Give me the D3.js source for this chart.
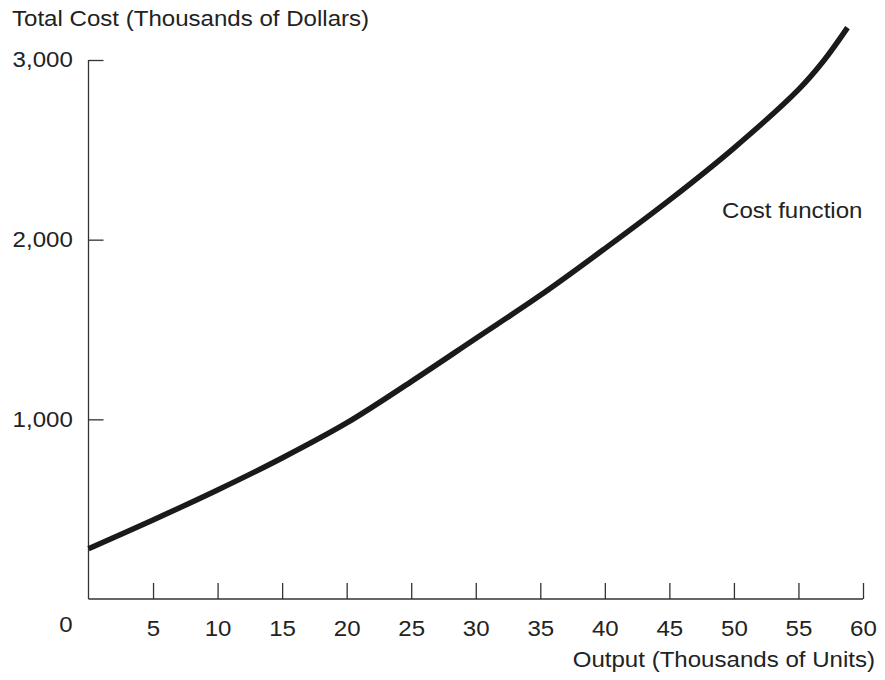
<!DOCTYPE html>
<html>
<head>
<meta charset="utf-8">
<script src="https://cdn.jsdelivr.net/npm/d3@7"></script>
<style>
  body { margin: 0; background: #fff; }
  svg text { font-family: "Liberation Sans", Arial, sans-serif; fill: #222; }
</style>
</head>
<body>
<svg width="885" height="680"></svg>
<script>
// output in thousands of units, total cost in thousands of dollars
const output = [0, 5, 10, 15, 20, 25, 30, 35, 40, 45, 50, 55, 57, 58.8]
const totalCost = [280, 440, 607, 785, 980, 1210, 1450, 1690, 1950, 2220, 2510, 2835, 3000, 3180]
const xTicks = [5, 10, 15, 20, 25, 30, 35, 40, 45, 50, 55, 60]
const yTicks = [1000, 2000, 3000]

const svg = d3.select("svg")
const fontSize = 21.5
const stretch = 1.12 // the original type is a little wider than Liberation Sans

const x = d3.scaleLinear().domain([0, 60]).range([88.5, 863])
const y = d3.scaleLinear().domain([0, 3000]).range([599, 60])

// axes: ticks point inward, like the original figure
const xAxis = svg.append("g")
  .attr("transform", "translate(0," + y(0) + ")")
  .call(d3.axisBottom(x).tickValues(xTicks).tickSizeInner(-16).tickSizeOuter(0).tickPadding(22))
xAxis.select(".domain").attr("d", "M" + x(0) + ",0H" + x(60))

const yAxis = svg.append("g")
  .attr("transform", "translate(" + x(0) + ",0)")
  .call(d3.axisLeft(y).tickValues(yTicks).tickSizeInner(-15).tickSizeOuter(0)
    .tickPadding(14).tickFormat(d3.format(",")))
yAxis.select(".domain").attr("d", "M0," + y(0) + "V" + y(3000))

svg.selectAll(".domain, .tick line").attr("stroke", "#333").attr("stroke-width", 1.3)
svg.selectAll(".tick text")
  .attr("font-size", fontSize).attr("fill", "#222")
  .attr("font-family", "Liberation Sans, Arial, sans-serif")
  .attr("transform", "scale(" + stretch + ",1)")

function label(px, py, anchor, str) {
  svg.append("text")
    .attr("transform", "translate(" + px + "," + py + ") scale(" + stretch + ",1)")
    .attr("text-anchor", anchor)
    .attr("font-size", fontSize)
    .text(str)
}

// origin label sits left of the axis
label(66, 632, "middle", "0")

const line = d3.line()
  .x((d, i) => x(output[i]))
  .y(d => y(d))
  .curve(d3.curveCatmullRom.alpha(0.5))

svg.append("path")
  .datum(totalCost)
  .attr("d", line)
  .attr("fill", "none")
  .attr("stroke", "#1a1a1a")
  .attr("stroke-width", 5.5)

label(12, 26, "start", "Total Cost (Thousands of Dollars)")
label(875, 667, "end", "Output (Thousands of Units)")
label(722, 218, "start", "Cost function")
</script>
</body>
</html>
